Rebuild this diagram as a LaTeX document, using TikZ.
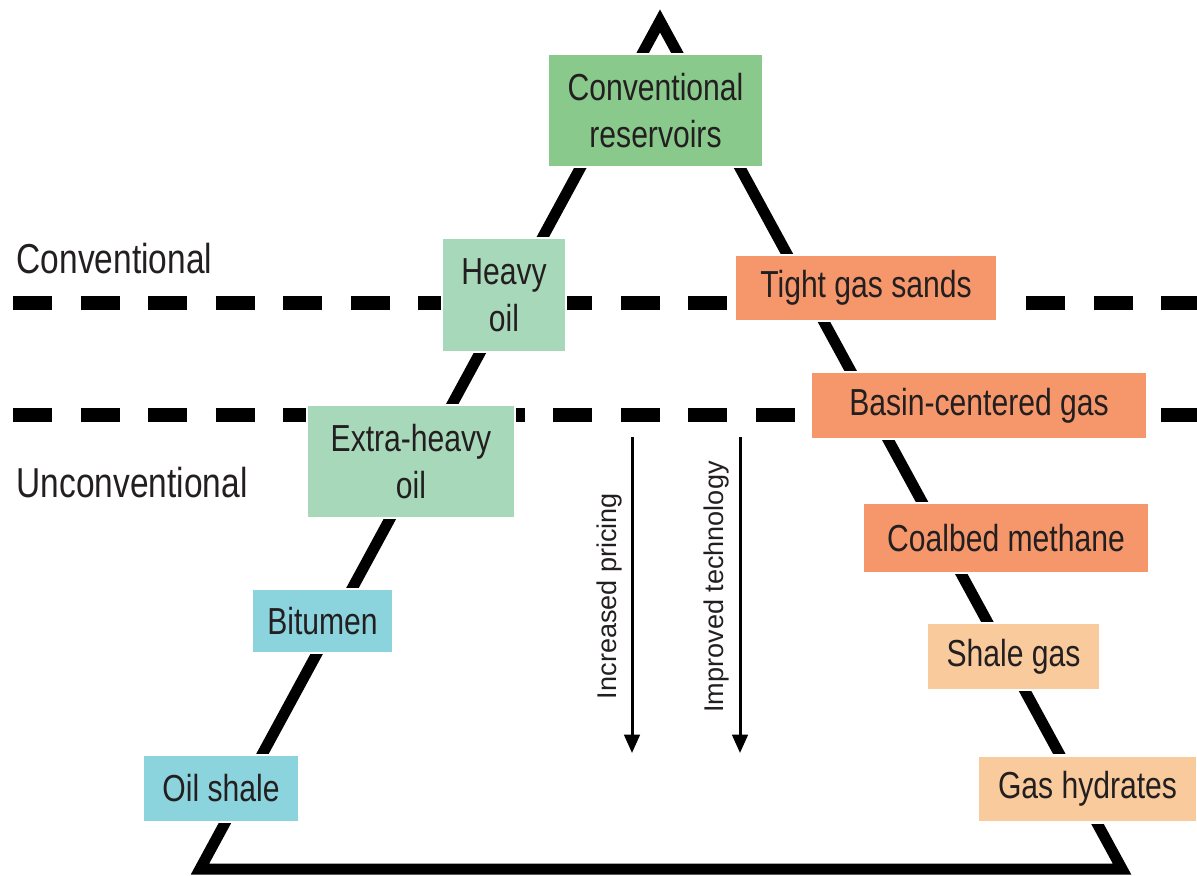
\documentclass[tikz,border=0pt]{standalone}
\usepackage{fontspec}
\newfontfamily\boxfont{Liberation Sans}[FakeStretch=0.8]
\newfontfamily\arrowfont{Liberation Sans}
\usetikzlibrary{arrows.meta}

\definecolor{textgray}{RGB}{35,31,32}
\definecolor{resgreen}{RGB}{137,201,139}
\definecolor{oilgreen}{RGB}{167,216,186}
\definecolor{oilblue}{RGB}{139,212,221}
\definecolor{gasorange}{RGB}{245,151,106}
\definecolor{gaspeach}{RGB}{249,202,155}

\tikzset{
    box/.style={draw=white, line width=0.6pt, inner sep=0pt, align=center, text=textgray,
        font=\boxfont\fontsize{10.7}{13.4}\selectfont},
    zone/.style={anchor=base west, inner sep=0pt, text=textgray, font=\boxfont\fontsize{11.9}{14}\selectfont},
    divider/.style={line width=0.13cm, dash pattern=on 0.39cm off 0.285cm},
    trend/.style={line width=0.85pt, -{Triangle[length=5.2pt,width=4.4pt]}},
    trendlabel/.style={rotate=90, text=textgray, font=\arrowfont\fontsize{7.7}{9}\selectfont}
}

\begin{document}
\begin{tikzpicture}[x=0.01cm, y=-0.01cm]
    \useasboundingbox (0,0) rectangle (1197,876);

    % resource triangle and zone borders
    \draw[line width=0.11cm, miter limit=20] (660,21) -- (1122,869) -- (200,869) -- cycle;
    \draw[divider] (13,303) -- (1197,303);
    \draw[divider] (13,415) -- (1197,415);

    \node[zone] (convlabel) at (16,273) {Conventional};
    \node[zone] (unconvlabel) at (16,497) {Unconventional};

    % oil side
    \node[box, fill=resgreen, minimum width=2.15cm, minimum height=1.13cm] (conv) at (655.5,110.5) {Conventional\\reservoirs};
    \node[box, fill=oilgreen, minimum width=1.24cm, minimum height=1.14cm] (heavy) at (504,295) {Heavy\\oil};
    \node[box, fill=oilgreen, minimum width=2.08cm, minimum height=1.13cm] (xheavy) at (411,461.5) {Extra-heavy\\oil};
    \node[box, fill=oilblue, minimum width=1.41cm, minimum height=0.64cm] (bitumen) at (322.5,621) {Bitumen};
    \node[box, fill=oilblue, minimum width=1.56cm, minimum height=0.67cm] (oilshale) at (221,788.5) {Oil shale};

    % gas side
    \node[box, fill=gasorange, minimum width=2.62cm, minimum height=0.66cm] (tight) at (866,288) {Tight gas sands};
    \node[box, fill=gasorange, minimum width=3.36cm, minimum height=0.67cm] (basin) at (979,405.5) {Basin-centered gas};
    \node[box, fill=gasorange, minimum width=2.86cm, minimum height=0.70cm] (coalbed) at (1006,538) {Coalbed methane};
    \node[box, fill=gaspeach, minimum width=1.73cm, minimum height=0.67cm] (shalegas) at (1013.5,656.5) {Shale gas};
    \node[box, fill=gaspeach, minimum width=2.19cm, minimum height=0.67cm] (hydrates) at (1087.5,789) {Gas hydrates};

    % drivers
    \coordinate (pricetop) at (632,437);
    \coordinate (pricebot) at (632,753);
    \coordinate (techtop) at (740,437);
    \coordinate (techbot) at (740,753);
    \draw[trend] (pricetop) -- (pricebot);
    \draw[trend] (techtop) -- (techbot);
    \node[trendlabel] (pricing) at (609,596) {Increased pricing};
    \node[trendlabel] (technology) at (716,587) {Improved technology};
\end{tikzpicture}
\end{document}
